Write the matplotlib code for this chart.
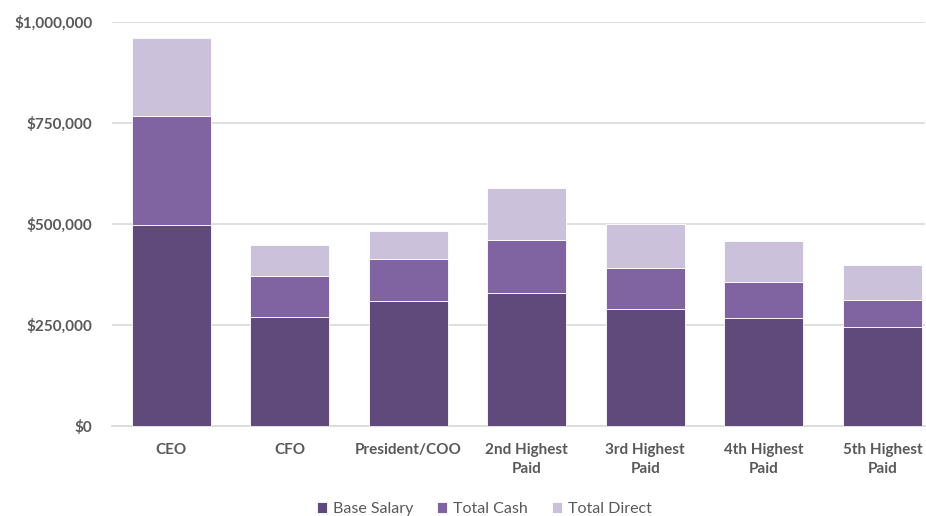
import matplotlib
matplotlib.use("Agg")
import matplotlib.pyplot as plt
import numpy as np
from matplotlib.ticker import FuncFormatter

categories = ["CEO", "CFO", "President/COO", "2nd Highest\nPaid", "3rd Highest\nPaid",
              "4th Highest\nPaid", "5th Highest\nPaid"]
base_salary = [498000, 270000, 309000, 329000, 290000, 267000, 245000]
total_cash = [767000, 371000, 413000, 460000, 391000, 356000, 312000]
total_direct = [960000, 448000, 483000, 589000, 500000, 458000, 399000]
series_names = ["Base Salary", "Total Cash", "Total Direct"]
colors = ["#604A7B", "#8064A2", "#CCC1DA"]

plt.rcParams['font.family'] = ['Lato', 'DejaVu Sans']

fig = plt.figure(figsize=(9.26, 5.16), dpi=100)
ax = fig.add_axes([112/926, 90/516, (925-112)/926, (426-22)/516])

x = np.arange(len(categories))
b = np.array(base_salary)
c = np.array(total_cash) - b
d = np.array(total_direct) - np.array(total_cash)
w = 0.667
ax.bar(x, b, w, color=colors[0], label=series_names[0], edgecolor="white", linewidth=0.6, zorder=3)
ax.bar(x, c, w, bottom=b, color=colors[1], label=series_names[1], edgecolor="white", linewidth=0.6, zorder=3)
ax.bar(x, d, w, bottom=b + c, color=colors[2], label=series_names[2], edgecolor="white", linewidth=0.6, zorder=3)

ax.set_xlim(-0.5, 6.36)
ax.set_ylim(0, 1000000)
ax.set_yticks([0, 250000, 500000, 750000, 1000000])
ax.yaxis.set_major_formatter(FuncFormatter(lambda v, p: f"${v:,.0f}"))
ax.set_xticks(x)
ax.set_xticklabels(categories, linespacing=1.45)
ax.grid(axis="y", color="#D9D9D9", linewidth=1.2, zorder=0)
for s in ["top", "right", "left"]:
    ax.spines[s].set_visible(False)
ax.spines["bottom"].set_color("#D9D9D9")
ax.spines["bottom"].set_linewidth(1.2)
ax.tick_params(axis="both", length=0, colors="#595959", labelsize=11)
for lbl in ax.get_xticklabels() + ax.get_yticklabels():
    lbl.set_fontweight("bold")
ax.tick_params(axis="x", pad=12)
ax.tick_params(axis="y", pad=14)

fig.legend(loc="lower center", bbox_to_anchor=(484/926, -0.028), ncol=3, frameon=False,
           fontsize=11.5, handlelength=0.65, handleheight=0.65, handletextpad=0.35,
           columnspacing=1.5, labelcolor="#595959")

fig.savefig("out.png", dpi=100)
